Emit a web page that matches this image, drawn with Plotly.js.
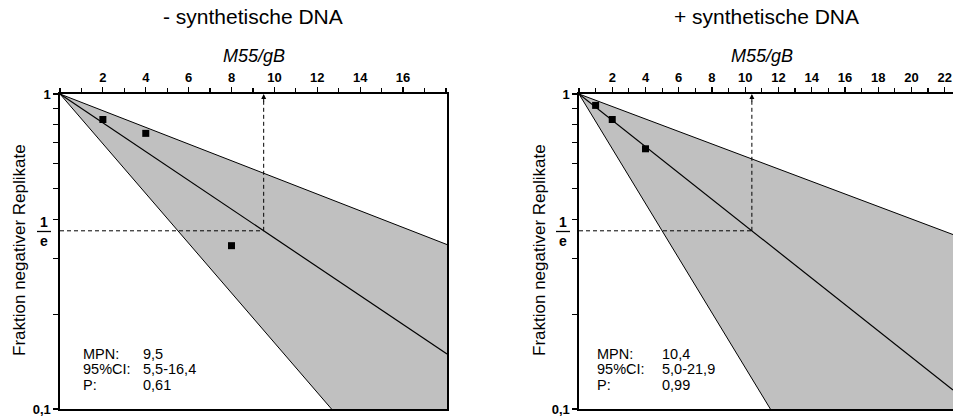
<!DOCTYPE html>
<html>
<head>
<meta charset="utf-8">
<script src="https://cdn.plot.ly/plotly-3.0.1.min.js"></script>
<style>html,body{margin:0;padding:0;background:#fff;}#chart{width:953px;height:416px;}</style>
</head>
<body>
<div id="chart"></div>
<script>
// ---- data ----
const panelTitles = ["- synthetische DNA", "+ synthetische DNA"];
const xAxisTitle = "M55/gB";
const yAxisTitle = "Fraktion negativer Replikate";
const statLabels = ["MPN:", "95%CI:", "P:"];

const leftDose = [2, 4, 8];
const leftFraction = [0.83, 0.75, 0.33];
const leftMPN = 9.5, leftCILow = 5.5, leftCIHigh = 16.4;
const leftStats = ["9,5", "5,5-16,4", "0,61"];
const leftXMax = 18.05;
const leftXTicks = [2, 4, 6, 8, 10, 12, 14, 16];

const rightDose = [1, 2, 4];
const rightFraction = [0.92, 0.83, 0.67];
const rightMPN = 10.4, rightCILow = 5.0, rightCIHigh = 21.9;
const rightStats = ["10,4", "5,0-21,9", "0,99"];
const rightXMax = 22.5;
const rightXTicks = [2, 4, 6, 8, 10, 12, 14, 16, 18, 20, 22];

const yTickVals = [1, 0.9, 0.8, 0.7, 0.6, 0.5, 0.4, 0.3, 0.2, 0.10001];
const yTickText = ["1", "", "", "", "", "", "", "", "", "0,1"];

// ---- layout helpers ----
const W = 953, H = 416;
const px = x => x / W;
const py = y => 1 - y / H;
const FONT = "Liberation Sans, Arial, Helvetica, sans-serif";
const invE = Math.exp(-1);

const panels = [
  {xa: "x", ya: "y", dose: leftDose, frac: leftFraction, mpn: leftMPN, lo: leftCILow, hi: leftCIHigh,
   stats: leftStats, xmax: leftXMax, ticks: leftXTicks, left: 60, right: 447, title: panelTitles[0],
   titleX: 253, subX: 254, ytitleX: 19, statX: 81, valX: 141, fracX: 44},
  {xa: "x2", ya: "y2", dose: rightDose, frac: rightFraction, mpn: rightMPN, lo: rightCILow, hi: rightCIHigh,
   stats: rightStats, xmax: rightXMax, ticks: rightXTicks, left: 579, right: 953, title: panelTitles[1],
   titleX: 766, subX: 762, ytitleX: 539, statX: 595, valX: 660, fracX: 563}
];

const traces = [];
const annotations = [];
const shapes = [];
const layout = {
  width: W, height: H,
  margin: {l: 0, r: 0, t: 0, b: 0},
  paper_bgcolor: "#fff", plot_bgcolor: "#fff",
  showlegend: false,
  font: {family: FONT, color: "#000"}
};

panels.forEach((p, i) => {
  const modelX = [0, p.xmax];
  const model = m => modelX.map(x => Math.exp(-x / m));
  // lower CI bound (steeper), then upper bound filled to it
  traces.push({x: modelX, y: model(p.lo), xaxis: p.xa, yaxis: p.ya, mode: "lines",
    line: {color: "#000", width: 1}, hoverinfo: "skip"});
  traces.push({x: modelX, y: model(p.hi), xaxis: p.xa, yaxis: p.ya, mode: "lines", fill: "tonexty",
    fillcolor: "#c0c0c0", line: {color: "#000", width: 1}, hoverinfo: "skip"});
  traces.push({x: modelX, y: model(p.mpn), xaxis: p.xa, yaxis: p.ya, mode: "lines",
    line: {color: "#000", width: 1.2}, hoverinfo: "skip"});
  // dashed guide lines
  traces.push({x: [0, p.mpn], y: [invE, invE], xaxis: p.xa, yaxis: p.ya, mode: "lines",
    line: {color: "#000", width: 1, dash: "4px,3px"}, hoverinfo: "skip"});
  traces.push({x: [p.mpn, p.mpn], y: [invE, 0.975], xaxis: p.xa, yaxis: p.ya, mode: "lines",
    line: {color: "#000", width: 1, dash: "4px,3px"}, hoverinfo: "skip"});
  // data points
  traces.push({x: p.dose, y: p.frac, xaxis: p.xa, yaxis: p.ya, mode: "markers",
    marker: {symbol: "square", size: 7, color: "#000"}, cliponaxis: false});

  const xKey = i === 0 ? "xaxis" : "xaxis2";
  const yKey = i === 0 ? "yaxis" : "yaxis2";
  layout[xKey] = {
    domain: [px(p.left), px(p.right)], range: [0, p.xmax], anchor: p.ya, side: "top",
    tickvals: p.ticks, ticktext: p.ticks.map(String), ticks: "outside", ticklen: 5, tickwidth: 1.2,
    tickcolor: "#000", tickfont: {family: FONT, size: 13, weight: "bold", color: "#000"},
    minor: {dtick: 1, tick0: 0, ticks: "outside", ticklen: 4, tickwidth: 1.2, tickcolor: "#000", showgrid: false},
    showline: true, linecolor: "#000", linewidth: 1.6, mirror: true,
    showgrid: false, zeroline: false, fixedrange: true, ticklabeloverflow: "allow"
  };
  layout[yKey] = {
    domain: [py(409), py(94)], type: "log", range: [-1, 0], anchor: p.xa,
    tickvals: yTickVals, ticktext: yTickText, ticks: "outside", ticklen: 5, tickwidth: 1.2,
    tickcolor: "#000", tickfont: {family: FONT, size: 13, weight: "bold", color: "#000"},
    showline: true, linecolor: "#000", linewidth: 1.6, mirror: true,
    showgrid: false, zeroline: false, fixedrange: true, ticklabeloverflow: "allow"
  };

  // arrow head on vertical dashed line
  annotations.push({xref: p.xa, yref: p.ya, x: p.mpn, y: 0, ax: 0, ay: 9, text: "",
    showarrow: true, arrowhead: 2, arrowsize: 1, arrowwidth: 1, arrowcolor: "#000", standoff: 0});

  annotations.push({xref: "paper", yref: "paper", x: px(p.titleX), y: py(17), text: p.title,
    showarrow: false, xanchor: "center", yanchor: "middle", font: {family: FONT, size: 21, color: "#000"}});
  annotations.push({xref: "paper", yref: "paper", x: px(p.subX), y: py(56), text: "<i>" + xAxisTitle + "</i>",
    showarrow: false, xanchor: "center", yanchor: "middle", font: {family: FONT, size: 18, color: "#000"}});
  annotations.push({xref: "paper", yref: "paper", x: px(p.ytitleX), y: py(250), text: yAxisTitle, textangle: -90,
    showarrow: false, xanchor: "center", yanchor: "middle", font: {family: FONT, size: 17, color: "#000"}});

  // 1/e label as a fraction
  annotations.push({xref: "paper", yref: "paper", x: px(p.fracX), y: py(222), text: "<b>1</b>",
    showarrow: false, xanchor: "center", yanchor: "middle", font: {family: FONT, size: 14, color: "#000"}});
  annotations.push({xref: "paper", yref: "paper", x: px(p.fracX), y: py(241), text: "<b>e</b>",
    showarrow: false, xanchor: "center", yanchor: "middle", font: {family: FONT, size: 14, color: "#000"}});
  shapes.push({type: "line", xref: "paper", yref: "paper", x0: px(p.fracX - 7), x1: px(p.fracX + 7),
    y0: py(231.5), y1: py(231.5), line: {color: "#000", width: 1.3}});

  // statistics box
  statLabels.forEach((lab, k) => {
    const yy = 353.5 + k * 15.5;
    annotations.push({xref: "paper", yref: "paper", x: px(p.statX), y: py(yy), text: lab,
      showarrow: false, xanchor: "left", yanchor: "middle", font: {family: FONT, size: 14.5, color: "#000"}});
    annotations.push({xref: "paper", yref: "paper", x: px(p.valX), y: py(yy), text: p.stats[k],
      showarrow: false, xanchor: "left", yanchor: "middle", font: {family: FONT, size: 14.5, color: "#000"}});
  });
});

layout.annotations = annotations;
layout.shapes = shapes;

Plotly.newPlot("chart", traces, layout, {staticPlot: true, displayModeBar: false});
</script>
</body>
</html>
